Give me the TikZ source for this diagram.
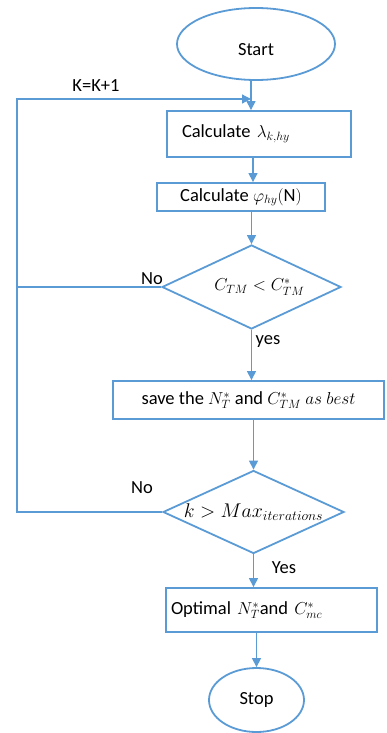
\documentclass[tikz,border=0pt]{standalone}
\usepackage{fontspec}
\setmainfont{Carlito}
\usetikzlibrary{shapes.geometric,arrows.meta}
\definecolor{fb}{HTML}{5B9BD5}
\begin{document}
\begin{tikzpicture}[x=1pt,y=-1pt,font=\fontsize{18.5}{22}\selectfont,
  shapeline/.style={draw=fb,line width=1.8pt},
  procbox/.style={shapeline,rectangle,inner sep=0pt},
  term/.style={shapeline,ellipse,inner sep=0pt},
  decide/.style={shapeline,diamond,inner sep=0pt},
  conn/.style={draw=fb,line width=1.2pt},
  arr/.style={conn,-{Triangle[length=9pt,width=9pt]}},
  lbl/.style={inner sep=0pt}]
\useasboundingbox (0,0) rectangle (386,733);
% nodes
\node[term,minimum width=158,minimum height=72] (start) at (256,44) {\smash{\raisebox{-12pt}{Start}}};
\node[procbox,minimum height=46,text width=154,inner xsep=15,align=left] (b1) at (259,134) {Calculate $\lambda_{k,hy}$};
\node[procbox,minimum width=168,minimum height=28] (b2) at (241,197) {Calculate $\varphi_{hy}(\mathrm{N})$};
\node[decide,minimum width=179,minimum height=84] (d1) at (251.5,287) {\makebox[0pt]{\hspace{16pt}$C_{TM}<C_{TM}^*$}};
\node[procbox,minimum width=271,minimum height=38] (b3) at (248.5,400) {save the $N_T^*$ and $C_{TM}^*$ $as\ best$};
\node[decide,minimum width=181,minimum height=83] (d2) at (253.5,512) {\makebox[0pt]{\scalebox{1.15}{$k>Max_{iterations}$}}};
\node[procbox,minimum height=44,text width=201,inner xsep=5,align=left] (b4) at (271.5,610) {Optimal $N_T^*$and $C_{mc}^*$};
\node[term,minimum width=95,minimum height=64] (stop) at (256.5,700) {Stop};
% coordinates
\coordinate (j) at (251,99);
\coordinate (lx) at (17,99);
% connectors
\draw[conn] (start.south -| j) -- (j);
\draw[arr] (j) -- (j |- b1.north);
\draw[arr] (b1.south -| 253,0) -- (b2.north -| 253,0);
\draw[arr] (b2.south -| d1.north) -- (d1.north);
\draw[arr] (d1.south) -- (d1.south |- b3.north);
\draw[arr] (b3.south -| d2.north) -- (d2.north);
\draw[arr] (d2.south) -- (d2.south |- b4.north);
\draw[arr] (b4.south -| stop.north) -- (stop.north);
\draw[conn] (d1.west) -- (d1.west -| lx);
\draw[arr] (d2.west) -| (lx) -- (j);
% labels
\node[lbl] (kk) at (96,86) {K=K+1};
\node[lbl] (no1) at (152,279) {No};
\node[lbl] (yes1) at (268,342) {yes};
\node[lbl] (no2) at (142,488) {No};
\node[lbl] (yes2) at (284,568) {Yes};
\end{tikzpicture}
\end{document}
